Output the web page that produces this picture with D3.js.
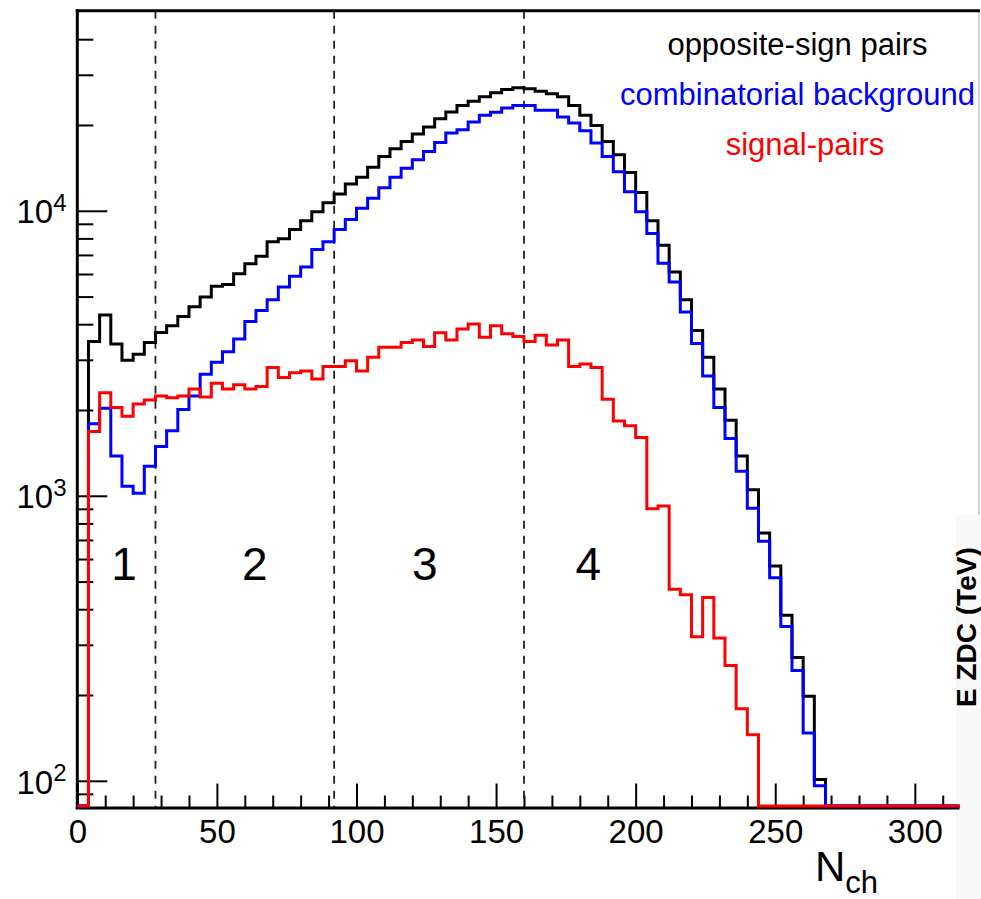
<!DOCTYPE html>
<html>
<head>
<meta charset="utf-8">
<script src="https://cdn.jsdelivr.net/npm/d3@7"></script>
<style>
  body { margin: 0; background: #fff; }
  svg text { font-family: "Liberation Sans", Arial, Helvetica, sans-serif; }
</style>
</head>
<body>
<div id="root"></div>
<script>
// canvas size
let width = 981, height = 899;

// histogram binning (N_ch), bins of 4 from 0 to 316
const binWidth = 4;
const xMax = 316;

// opposite-sign pairs (black), one value per bin starting at N=0
const oppositeSign = [
  0, 3480, 4310, 3410, 2990, 3140, 3450, 3740, 3950, 4260,
  4610, 4980, 5430, 5510, 6010, 6520, 6920, 7780, 7970, 8600,
  9220, 9920, 10670, 11460, 12420, 13120, 14220, 15500, 16500, 17510,
  18590, 19680, 21050, 22230, 23400, 24240, 25120, 25950, 26650, 27020,
  26790, 26280, 25730, 25120, 23400, 21620, 19920, 17510, 15720, 13620,
  11580, 9220, 7570, 6100, 4870, 3800, 3060, 2370, 1840, 1380,
  1050, 740, 567, 381, 271, 198, 101, 0, 0, 0,
  0, 0, 0, 0, 0, 0, 0, 0, 0
];

// combinatorial background (blue)
const combBackground = [
  0, 1790, 2030, 1380, 1080, 1020, 1270, 1490, 1690, 2010,
  2240, 2670, 2940, 3200, 3550, 4090, 4470, 4870, 5400, 5890,
  6350, 7310, 7780, 8600, 9320, 10200, 11060, 12050, 13120, 14110,
  15100, 16140, 17370, 18750, 19260, 20500, 21630, 22160, 22960, 23400,
  23400, 22520, 22520, 21330, 20330, 19100, 17290, 15500, 13720, 11670,
  9920, 8320, 6550, 5620, 4410, 3420, 2630, 2040, 1590, 1220,
  905, 693, 516, 348, 244, 147, 96, 0, 0, 0,
  0, 0, 0, 0, 0, 0, 0, 0, 0
];

// signal pairs (red)
const signalPairs = [
  0, 1680, 2300, 2040, 1900, 2100, 2170, 2240, 2210, 2240,
  2370, 2220, 2480, 2370, 2450, 2370, 2420, 2820, 2600, 2700,
  2740, 2570, 2840, 2840, 2980, 2740, 3060, 3320, 3320, 3450,
  3520, 3340, 3730, 3520, 3850, 4010, 3600, 3950, 3700, 3620,
  3480, 3660, 3380, 3520, 2840, 2900, 2820, 2180, 1830, 1760,
  1600, 900, 920, 470, 450, 320, 440, 317, 254, 179,
  145, 0, 0, 0, 0, 0, 0, 0, 0, 0,
  0, 0, 0, 0, 0, 0, 0, 0, 0
];

// centrality class boundaries and labels
const classEdges = [28, 92, 160];
const classLabels = ['1', '2', '3', '4'];
const classLabelN = [16.7, 63.6, 124.5, 183];

// axis ticks
const xMajorTicks = [0, 50, 100, 150, 200, 250, 300];
const yMajorExp = [2, 3, 4];
const yMinorTicks = [90, 200, 300, 400, 500, 600, 700, 800, 900,
  2000, 3000, 4000, 5000, 6000, 7000, 8000, 9000, 20000, 30000, 40000];

const legendItems = ['opposite-sign pairs', 'combinatorial background', 'signal-pairs'];
const seriesColors = ['#000000', '#0000ff', '#ff0000'];

// plot area
let plot = {left: 77.3, right: 959.5, top: 10.7, bottom: 807.5};

var svg = d3.select('#root')
  .append('svg')
  .attr('width', width)
  .attr('height', height);

// piece of the neighbouring panel at the right edge
svg.append('rect')
  .attr('x', 956).attr('y', 515)
  .attr('width', 30).attr('height', 400)
  .attr('fill', '#f9f9f9');
svg.append('line')
  .attr('x1', 979).attr('x2', 979)
  .attr('y1', plot.top).attr('y2', 515)
  .attr('stroke', '#aaa').attr('stroke-width', 1);
svg.append('text')
  .attr('transform', 'translate(976,707) rotate(-90)')
  .attr('font-size', 28).attr('font-weight', 'bold')
  .text('E ZDC (TeV)');

var xScale = d3.scaleLinear()
  .domain([0, xMax])
  .range([plot.left, plot.right]);

var yScale = d3.scaleLog()
  .domain([80.6, 50350])
  .range([plot.bottom, plot.top]);

const yPos = v => v > yScale.domain()[0] ? yScale(v) : plot.bottom - 1.5;

// x ticks (pointing up into the plot)
var xMinor = d3.range(0, xMax + 1, 10).filter(d => d % 50 !== 0);
svg.append('g')
  .attr('transform', 'translate(0,' + plot.bottom + ')')
  .call(d3.axisBottom(xScale).tickValues(xMinor).tickSize(-12).tickFormat(''))
  .call(g => g.select('.domain').remove());
var xAxisG = svg.append('g')
  .attr('transform', 'translate(0,' + plot.bottom + ')')
  .call(d3.axisBottom(xScale).tickValues(xMajorTicks).tickSize(-24).tickPadding(12.5).tickFormat(d3.format('d')));
xAxisG.select('.domain').remove();
xAxisG.selectAll('text').attr('font-size', 33).attr('fill', '#000')
  .attr('font-family', '"Liberation Sans", Arial, sans-serif');

// y ticks
svg.append('g')
  .attr('transform', 'translate(' + plot.left + ',0)')
  .call(d3.axisLeft(yScale).tickValues(yMinorTicks).tickSize(-16).tickFormat(''))
  .call(g => g.select('.domain').remove());
svg.append('g')
  .attr('transform', 'translate(' + plot.left + ',0)')
  .call(d3.axisLeft(yScale).tickValues(yMajorExp.map(e => Math.pow(10, e))).tickSize(-30).tickFormat(''))
  .call(g => g.select('.domain').remove());
svg.selectAll('.tick line').attr('stroke', '#000').attr('stroke-width', 2);

// y labels as 10^n
var yLab = svg.append('g').selectAll('text')
  .data(yMajorExp)
  .enter()
  .append('text')
  .attr('x', 66.5)
  .attr('y', d => yScale(Math.pow(10, d)) + 12.7)
  .attr('text-anchor', 'end')
  .attr('font-size', 33);
yLab.append('tspan').text('10');
yLab.append('tspan').attr('font-size', 24).attr('dy', -12.5).text(d => d);

// dashed class boundaries
svg.append('g').selectAll('line')
  .data(classEdges)
  .enter()
  .append('line')
  .attr('x1', d => xScale(d)).attr('x2', d => xScale(d))
  .attr('y1', plot.top).attr('y2', plot.bottom)
  .attr('stroke', '#222')
  .attr('stroke-width', 1.8)
  .attr('stroke-dasharray', '8,7');

// class numbers
svg.append('g').selectAll('text')
  .data(classLabels)
  .enter()
  .append('text')
  .attr('x', (d, i) => xScale(classLabelN[i]))
  .attr('y', 580)
  .attr('text-anchor', 'middle')
  .attr('font-size', 46)
  .text(d => d);

// frame
svg.append('line')
  .attr('x1', plot.left).attr('x2', plot.left)
  .attr('y1', plot.top - 1.5).attr('y2', plot.bottom + 1.5)
  .attr('stroke', '#000').attr('stroke-width', 3);
svg.append('line')
  .attr('x1', plot.left - 1.5).attr('x2', plot.right)
  .attr('y1', plot.bottom + 0.5).attr('y2', plot.bottom + 0.5)
  .attr('stroke', '#000').attr('stroke-width', 3);
svg.append('line')
  .attr('x1', plot.left - 1.5).attr('x2', 980)
  .attr('y1', plot.top).attr('y2', plot.top)
  .attr('stroke', '#000').attr('stroke-width', 3);

// step histograms
var line = d3.line()
  .x(d => xScale(d[0]))
  .y(d => yPos(d[1]))
  .curve(d3.curveStepAfter);

[oppositeSign, combBackground, signalPairs].forEach((vals, k) => {
  var pts = vals.map((v, i) => [i * binWidth, v]);
  pts.push([xMax, vals[vals.length - 1]]);
  svg.append('path')
    .datum(pts)
    .attr('d', line)
    .attr('fill', 'none')
    .attr('stroke', seriesColors[k])
    .attr('stroke-width', 3)
    .attr('stroke-linejoin', 'miter');
});

// legend text
const legendX = [797.5, 797.5, 805];
svg.append('g').selectAll('text')
  .data(legendItems)
  .enter()
  .append('text')
  .attr('x', (d, i) => legendX[i])
  .attr('y', (d, i) => 55 + i * 50)
  .attr('text-anchor', 'middle')
  .attr('font-size', 31)
  .attr('fill', (d, i) => seriesColors[i])
  .text(d => d);

// axis title N_ch
var xt = svg.append('text')
  .attr('x', 815)
  .attr('y', 881)
  .attr('font-size', 42);
xt.append('tspan').text('N');
xt.append('tspan').attr('font-size', 31).attr('dy', 12).text('ch');
</script>
</body>
</html>
